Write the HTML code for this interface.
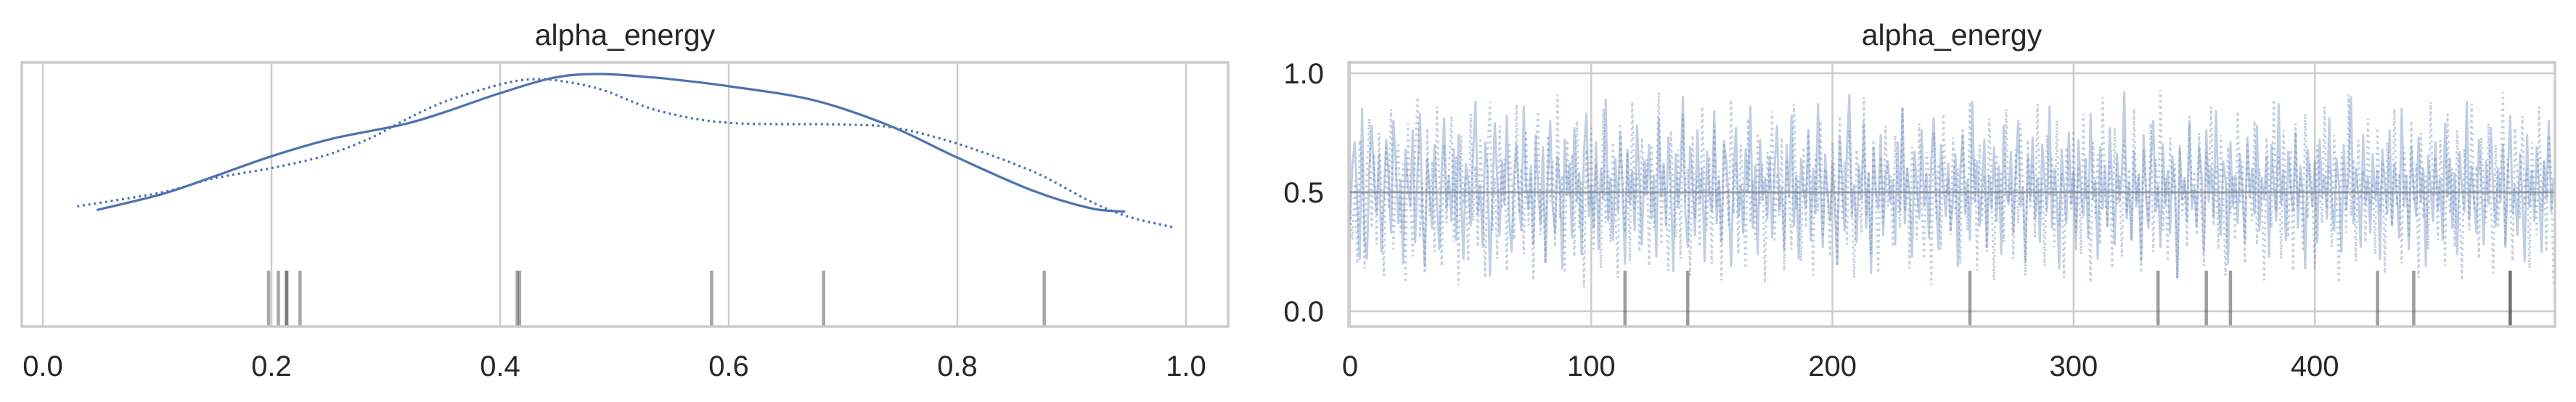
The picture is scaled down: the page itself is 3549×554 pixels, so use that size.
<!DOCTYPE html>
<html><head><meta charset="utf-8"><style>
html,body{margin:0;padding:0;background:#fff;}
svg{display:block;}
text{font-family:"Liberation Sans",sans-serif;fill:#262626;}
</style></head><body>
<svg id="chart" width="3549" height="554" viewBox="0 0 3549 554" xmlns="http://www.w3.org/2000/svg">
<g id="left"></g>
<g id="right"></g>
</svg>
<script>
// KDE data (posterior value, relative density)
const kdeSolidX = [0.048,0.104,0.149,0.201,0.254,0.315,0.351,0.40,0.448,0.489,0.534,0.55,0.6,0.674,0.740,0.8,0.866,0.916,0.946];
const kdeSolidD = [0.67,0.76,0.86,0.98,1.08,1.16,1.23,1.34,1.43,1.45,1.43,1.42,1.38,1.30,1.155,0.97,0.78,0.68,0.66];
const kdeDotX = [0.030,0.104,0.149,0.2,0.246,0.286,0.315,0.351,0.40,0.428,0.453,0.489,0.538,0.6,0.70,0.746,0.8,0.866,0.916,0.95,0.989];
const kdeDotD = [0.69,0.77,0.85,0.91,0.98,1.08,1.18,1.29,1.39,1.42,1.41,1.36,1.24,1.17,1.16,1.14,1.05,0.89,0.72,0.63,0.57];
const leftTicks = [0.0,0.2,0.4,0.6,0.8,1.0];
const leftTickLabels = ["0.0","0.2","0.4","0.6","0.8","1.0"];
const rugValues = [0.1975,0.206,0.213,0.2135,0.225,0.415,0.417,0.585,0.683,0.876];
// trace data
const divergentDraws = [114,140,257,335,355,365,426,441,481,481];
const rightXTicks = [0,100,200,300,400];
const rightYTicks = [0.0,0.5,1.0];
const rightYTickLabels = ["0.0","0.5","1.0"];
const chainSolid = [
.38,.62,.71,.45,.22,.85,.30,.22,.60,.78,.55,.41,.66,.25,.48,.72,.58,.33,.80,.62,.37,.55,.20,.68,.52,
.44,.76,.29,.58,.83,.40,.19,.64,.51,.35,.70,.47,.26,.59,.81,.43,.57,.38,.68,.30,.74,.49,.22,.62,.55,
.36,.66,.88,.41,.53,.27,.71,.60,.15,.48,.79,.56,.32,.63,.45,.82,.39,.25,.58,.70,.47,.34,.86,.52,.43,
.61,.28,.74,.50,.37,.69,.21,.57,.80,.44,.33,.65,.54,.18,.72,.49,.62,.31,.77,.46,.58,.24,.67,.83,.40,
.53,.35,.71,.26,.60,.47,.89,.38,.56,.30,.64,.42,.75,.51,.20,.68,.45,.59,.34,.78,.55,.28,.63,.49,.70,
.39,.57,.23,.81,.48,.62,.36,.73,.52,.17,.66,.44,.58,.90,.41,.27,.69,.54,.32,.76,.46,.60,.21,.67,.50,
.42,.84,.37,.55,.29,.71,.63,.45,.19,.58,.77,.40,.53,.33,.68,.50,.86,.35,.61,.24,.72,.47,.56,.39,.65,
.31,.59,.78,.43,.52,.26,.70,.48,.82,.36,.57,.22,.64,.51,.44,.75,.30,.60,.41,.87,.54,.27,.66,.49,.38,
.62,.45,.20,.73,.56,.34,.68,.91,.40,.53,.29,.61,.47,.79,.35,.58,.16,.69,.50,.43,.74,.32,.57,.63,.46,
.55,.28,.71,.42,.85,.37,.60,.49,.23,.67,.52,.39,.76,.44,.58,.31,.64,.81,.47,.26,.70,.53,.40,.62,.34,
.48,.66,.19,.59,.74,.41,.55,.30,.88,.46,.63,.36,.51,.72,.27,.57,.43,.69,.38,.61,.24,.78,.50,.45,.67,
.33,.58,.80,.44,.52,.21,.65,.47,.73,.39,.56,.29,.70,.54,.42,.86,.35,.60,.48,.18,.68,.51,.37,.75,.45,
.59,.26,.72,.50,.40,.64,.31,.83,.47,.55,.22,.69,.43,.61,.36,.77,.52,.28,.66,.46,.58,.92,.39,.54,.30,
.67,.44,.57,.21,.74,.49,.35,.62,.80,.42,.53,.27,.70,.45,.59,.33,.65,.51,.14,.68,.47,.56,.38,.79,.43,
.52,.36,.69,.58,.25,.76,.46,.61,.40,.84,.49,.32,.63,.55,.20,.71,.44,.57,.37,.66,.50,.29,.73,.48,.60,
.41,.78,.34,.56,.47,.65,.23,.70,.53,.38,.87,.45,.59,.30,.67,.52,.42,.75,.35,.61,.49,.18,.68,.55,.44,
.63,.29,.72,.48,.57,.39,.81,.46,.34,.64,.53,.25,.70,.43,.58,.90,.37,.60,.50,.27,.74,.45,.56,.33,.66,
.47,.59,.22,.68,.54,.41,.76,.36,.62,.49,.31,.85,.44,.57,.26,.69,.51,.40,.73,.46,.60,.19,.65,.53,.38,
.71,.43,.56,.30,.79,.48,.64,.35,.58,.24,.67,.52,.42,.88,.39,.61,.47,.33,.72,.55,.28,.63,.45,.77,.50,
.36,.60,.46,.70,.27,.57,.82,.41,.53,.32,.66,.49,.21,.74,.44,.59,.38,.69,.51,.25,.63,.47,.80,.42,.56];
const chainDotted = [
.42,.30,.55,.20,.72,.64,.18,.60,.81,.35,.66,.28,.75,.50,.15,.69,.43,.85,.26,.58,.71,.33,.62,.12,.79,
.47,.23,.68,.90,.31,.54,.16,.77,.40,.63,.25,.86,.52,.19,.70,.37,.59,.82,.29,.65,.11,.74,.45,.57,.21,
.83,.38,.61,.27,.73,.49,.14,.67,.88,.34,.56,.22,.78,.43,.64,.17,.71,.53,.30,.87,.41,.60,.24,.76,.36,
.58,.13,.69,.84,.32,.51,.20,.74,.46,.63,.27,.91,.39,.57,.16,.72,.48,.66,.23,.80,.35,.55,.10,.68,.44,
.77,.26,.62,.50,.18,.85,.37,.59,.29,.71,.45,.14,.79,.54,.33,.67,.21,.88,.42,.58,.25,.73,.48,.64,.19,
.70,.35,.56,.92,.28,.61,.43,.17,.76,.52,.31,.68,.22,.83,.46,.60,.15,.74,.39,.57,.27,.86,.50,.34,.65,
.20,.78,.44,.59,.13,.72,.53,.36,.89,.41,.63,.24,.70,.48,.18,.81,.37,.55,.30,.75,.45,.62,.12,.67,.51,
.84,.29,.58,.40,.73,.17,.64,.49,.26,.87,.43,.57,.21,.69,.35,.77,.52,.15,.66,.42,.80,.31,.60,.47,.23,
.71,.55,.19,.82,.38,.63,.28,.76,.46,.14,.68,.53,.33,.90,.40,.59,.24,.72,.49,.16,.65,.37,.78,.44,.57,
.27,.74,.50,.35,.86,.42,.61,.18,.69,.54,.30,.79,.45,.22,.67,.58,.11,.75,.39,.62,.26,.83,.48,.56,.32,
.73,.41,.60,.20,.77,.52,.34,.88,.45,.64,.17,.70,.38,.57,.25,.81,.49,.13,.66,.43,.59,.29,.85,.46,.54,
.22,.68,.37,.79,.51,.15,.72,.44,.62,.31,.87,.40,.56,.19,.74,.48,.65,.27,.80,.36,.58,.14,.69,.53,.42,
.76,.33,.61,.24,.83,.47,.55,.12,.71,.39,.66,.28,.90,.50,.35,.63,.18,.77,.45,.57,.23,.72,.41,.60,.30,
.85,.46,.58,.16,.68,.52,.37,.79,.25,.64,.43,.93,.34,.56,.21,.73,.49,.62,.14,.70,.40,.55,.27,.82,.47,
.59,.32,.75,.44,.19,.67,.53,.86,.36,.61,.26,.74,.48,.15,.69,.41,.57,.30,.84,.45,.63,.20,.71,.50,.38,
.80,.28,.60,.47,.13,.73,.55,.35,.89,.42,.65,.22,.76,.51,.31,.68,.17,.79,.44,.58,.25,.83,.39,.62,.46,
.18,.70,.53,.37,.86,.43,.61,.27,.74,.49,.12,.67,.56,.33,.91,.40,.64,.21,.72,.47,.59,.29,.81,.45,.54,
.24,.77,.42,.63,.16,.71,.50,.36,.85,.44,.58,.20,.69,.53,.31,.80,.46,.62,.14,.75,.39,.57,.26,.88,.48,
.65,.30,.72,.52,.19,.83,.41,.60,.27,.76,.45,.13,.68,.55,.34,.87,.43,.61,.22,.73,.50,.37,.79,.46,.16,
.70,.35,.58,.92,.28,.64,.47,.21,.77,.53,.39,.82,.44,.60,.18,.71,.51,.32,.86,.42,.63,.25,.74,.56,.10];

const NS='http://www.w3.org/2000/svg';
function mk(parent, tag, attrs){const e=document.createElementNS(NS,tag);for(const k in attrs)e.setAttribute(k,attrs[k]);parent.appendChild(e);return e;}
const BLUE='#4c72b0';
const TOP=86, BOT=450, RUGTOP=373;

// ---------- left panel ----------
const L=document.getElementById('left');
const lx=v=>59+v*1575;
const ly=d=>450-d*240;
const L0=30, L1=1692;
leftTicks.forEach((t,i)=>{
  const g=mk(L,'line',{x1:lx(t),x2:lx(t),y1:TOP,y2:BOT,stroke:'#cccccc','stroke-width':2.5});
  
  
  const tx=mk(L,'text',{x:lx(t),y:518,'font-size':40,'text-anchor':'middle'});
  tx.textContent=leftTickLabels[i];
  
  
});
rugValues.forEach(v=>{
  const r=mk(L,'line',{x1:lx(v),x2:lx(v),y1:RUGTOP,y2:BOT,stroke:'#4d4d4d','stroke-opacity':0.5,'stroke-width':4.5});
  
  
});
function kdePath(xs,ds){
  const p=xs.map((x,i)=>[lx(x),ly(ds[i])]);
  let d='M'+p[0][0].toFixed(1)+','+p[0][1].toFixed(1);
  for(let i=0;i<p.length-1;i++){
    const p0=p[Math.max(0,i-1)],p1=p[i],p2=p[i+1],p3=p[Math.min(p.length-1,i+2)];
    const c1x=p1[0]+(p2[0]-p0[0])/6,c1y=p1[1]+(p2[1]-p0[1])/6;
    const c2x=p2[0]-(p3[0]-p1[0])/6,c2y=p2[1]-(p3[1]-p1[1])/6;
    d+=' C'+c1x.toFixed(1)+','+c1y.toFixed(1)+' '+c2x.toFixed(1)+','+c2y.toFixed(1)+' '+p2[0].toFixed(1)+','+p2[1].toFixed(1);
  }
  return d;
}
const ps=mk(L,'path',{d:kdePath(kdeSolidX,kdeSolidD),fill:'none',stroke:BLUE,'stroke-width':3.2,'stroke-linejoin':'round','stroke-linecap':'round'});


const pd=mk(L,'path',{d:kdePath(kdeDotX,kdeDotD),fill:'none',stroke:BLUE,'stroke-width':3.2,'stroke-dasharray':'3,4.8'});


const lf=mk(L,'rect',{x:L0,y:TOP,width:L1-L0,height:BOT-TOP,fill:'none',stroke:'#cccccc','stroke-width':3.5});


const lt=mk(L,'text',{x:(L0+L1)/2,y:62,'font-size':41,'text-anchor':'middle'});
lt.textContent='alpha_energy';



// ---------- right panel ----------
const R=document.getElementById('right');
const rx=i=>1860+i*3.323;
const ry=v=>429-v*328;
const R0=1858, R1=3520;
rightXTicks.forEach(t=>{
  const g=mk(R,'line',{x1:rx(t),x2:rx(t),y1:TOP,y2:BOT,stroke:'#cccccc','stroke-width':2.5});
  
  
  const tx=mk(R,'text',{x:rx(t),y:518,'font-size':40,'text-anchor':'middle'});
  tx.textContent=String(t);
  
  
});
rightYTicks.forEach((t,i)=>{
  const g=mk(R,'line',{x1:R0,x2:R1,y1:ry(t),y2:ry(t),stroke:'#cccccc','stroke-width':2.5});
  
  
  const tx=mk(R,'text',{x:1824,y:ry(t)+14,'font-size':40,'text-anchor':'end'});
  tx.textContent=rightYTickLabels[i];
  
  
});
function tracePath(arr){return arr.map((v,i)=>(i?'L':'M')+rx(i).toFixed(1)+','+ry(v).toFixed(1)).join(' ');}
const ts=mk(R,'path',{d:tracePath(chainSolid),fill:'none',stroke:BLUE,'stroke-opacity':0.35,'stroke-width':3,'stroke-linejoin':'round'});


const td=mk(R,'path',{d:tracePath(chainDotted),fill:'none',stroke:BLUE,'stroke-opacity':0.35,'stroke-width':3,'stroke-dasharray':'3,5'});


const ml=mk(R,'line',{x1:R0,x2:R1,y1:ry(0.5),y2:ry(0.5),stroke:'#808080','stroke-opacity':0.5,'stroke-width':3});


divergentDraws.forEach(d=>{
  const r=mk(R,'line',{x1:rx(d),x2:rx(d),y1:RUGTOP,y2:BOT,stroke:'#4d4d4d','stroke-opacity':0.55,'stroke-width':4.5});
  
  
});
const rf=mk(R,'rect',{x:R0,y:TOP,width:R1-R0,height:BOT-TOP,fill:'none',stroke:'#cccccc','stroke-width':3.5});


const rt=mk(R,'text',{x:(R0+R1)/2,y:62,'font-size':41,'text-anchor':'middle'});
rt.textContent='alpha_energy';


</script>
</body></html>
